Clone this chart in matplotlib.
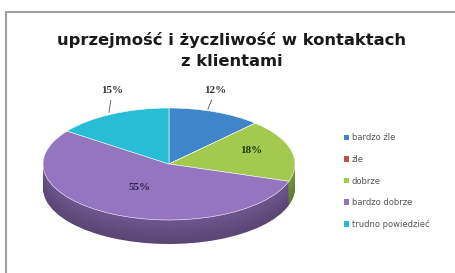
import matplotlib.pyplot as plt
from matplotlib.colors import to_rgb
from matplotlib.patches import Rectangle

title = "uprzejmość i życzliwość w kontaktach\nz klientami"
categories = ["bardzo źle", "źle", "dobrze", "bardzo dobrze", "trudno powiedzieć"]
values = [12, 0, 18, 55, 15]
colors = ["#3f86c8", "#c0504d", "#a3c94e", "#9475c0", "#27bdd6"]

W, H = 455, 273
fig = plt.figure(figsize=(W / 100, H / 100), dpi=100)

# chart frame
fig.patches.append(Rectangle((6 / W, -0.1), 1.2, (H - 12) / H + 0.1, transform=fig.transFigure,
                             facecolor="white", edgecolor="#a0a0a0", linewidth=1.5, zorder=-5))

fig.text(232 / W, 1 - 51 / H, title, ha="center", va="center", fontsize=11.8,
         fontweight="bold", family="DejaVu Sans", color="#1a1a1a", linespacing=1.5)

# pseudo-3D pie: top face ellipse, then a stack of darker copies for the side
rx, ry, depth = 126, 56, 24
cx, cy = 169, 164
ax = fig.add_axes([(cx - rx) / W, 1 - (cy + ry + depth) / H, 2 * rx / W, (2 * ry + depth) / H])
d = depth / ry


def darker(c, f):
    r, g, b = to_rgb(c)
    return (r * f, g * f, b * f)


n_layers = 24
for k in range(n_layers, 0, -1):
    off = -d * k / n_layers
    shade = 0.6 + 0.14 * (1 - k / n_layers)
    ax.pie(values, colors=[darker(c, shade) for c in colors], startangle=90,
           counterclock=False, center=(0, off), radius=1,
           wedgeprops=dict(linewidth=0))

ax.pie(values, colors=colors, startangle=90, counterclock=False, radius=1,
       wedgeprops=dict(linewidth=0.4, edgecolor="white"))
ax.set_aspect("auto")
ax.set_xlim(-1, 1)
ax.set_ylim(-1 - d, 1)
ax.axis("off")

lab = dict(fontsize=8, fontweight="bold", family="Liberation Serif", ha="center", va="center")
# outside labels with leader lines
ax.annotate(f"{values[0]}%", xy=(0.3, 0.93), xytext=(0.37, 1.32), color="#333333",
            arrowprops=dict(arrowstyle="-", color="#555555", lw=0.6), annotation_clip=False, **lab)
ax.annotate(f"{values[4]}%", xy=(-0.48, 0.87), xytext=(-0.45, 1.32), color="#333333",
            arrowprops=dict(arrowstyle="-", color="#555555", lw=0.6), annotation_clip=False, **lab)
ax.text(0.65, 0.24, f"{values[2]}%", color="#1f3a10", **lab)
ax.text(-0.23, -0.42, f"{values[3]}%", color="#2e1f4a", **lab)

handles = [Rectangle((0, 0), 1, 1, facecolor=c) for c in colors]
fig.legend(handles, categories, loc="upper left", bbox_to_anchor=(336 / W, 1 - 126 / H),
           frameon=False, fontsize=6, labelcolor="#555555", handlelength=0.6, handleheight=0.6,
           handletextpad=0.4, labelspacing=1.5)

fig.savefig("out.png", dpi=100)
